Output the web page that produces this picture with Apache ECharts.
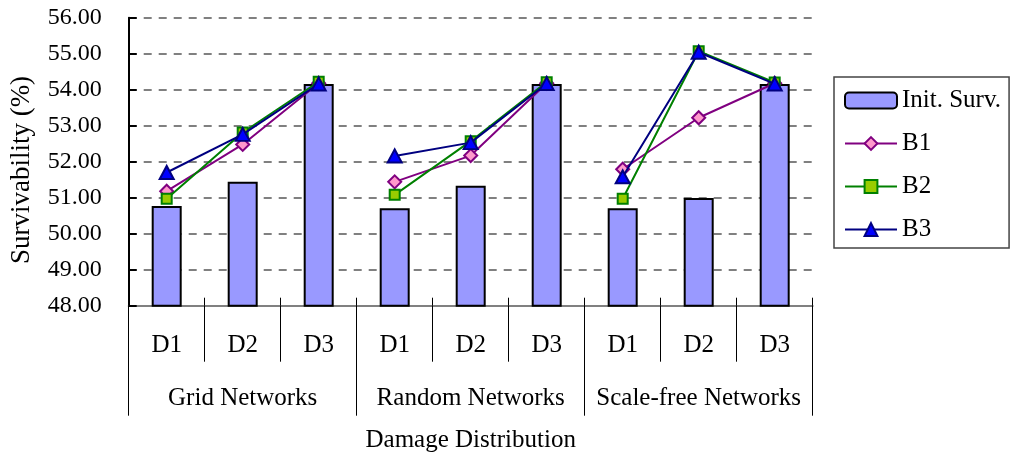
<!DOCTYPE html>
<html>
<head>
<meta charset="utf-8">
<script src="https://cdn.jsdelivr.net/npm/echarts@6/dist/echarts.min.js"></script>
<style>
  html, body { margin: 0; padding: 0; background: #fff; }
  #chart { width: 1013px; height: 462px; }
</style>
</head>
<body>
<div id="chart"></div>
<script>
// Damage distributions within each network type
const categories = ['D1', 'D2', 'D3', 'D1', 'D2', 'D3', 'D1', 'D2', 'D3'];
const groups = ['Grid Networks', 'Random Networks', 'Scale-free Networks'];
const yTicks = [48, 49, 50, 51, 52, 53, 54, 55, 56];

// Survivability (%) per category
const initSurv = [50.77, 51.44, 54.16, 50.71, 51.33, 54.16, 50.71, 50.99, 54.16];
const b1 = [51.18, 52.48, 54.18, 51.44, 52.17, 54.18, 51.79, 53.22, 54.18];
const b2 = [50.97, 52.81, 54.22, 51.08, 52.57, 54.21, 50.97, 55.07, 54.20];
const b3 = [51.70, 52.76, 54.16, 52.16, 52.53, 54.17, 51.58, 55.04, 54.16];

const FONT = "'Liberation Serif', 'Times New Roman', serif";

const lineStyles = {
  B1: { line: '#800080', fill: '#ff99cc', border: '#800080', symbol: 'diamond', size: [13, 13] },
  B2: { line: '#008000', fill: '#99cc00', border: '#008000', symbol: 'rect', size: [10, 10] },
  B3: { line: '#000080', fill: '#0000ff', border: '#000080', symbol: 'triangle', size: [14, 13] }
};

// Each network type gets its own line segment so lines break between groups
function groupSeries(name, values, z) {
  const st = lineStyles[name];
  const out = [];
  for (let g = 0; g < groups.length; g++) {
    const data = values.map((v, i) => (Math.floor(i / 3) === g ? v : '-'));
    out.push({
      name: name,
      type: 'line',
      data: data,
      z: z,
      symbol: st.symbol,
      symbolSize: st.size,
      connectNulls: false,
      lineStyle: { color: st.line, width: 2 },
      itemStyle: { color: st.fill, borderColor: st.border, borderWidth: 2 },
      emphasis: { disabled: true }
    });
  }
  return out;
}

const chart = echarts.init(document.getElementById('chart'), null, { renderer: 'canvas' });

const option = {
  animation: false,
  backgroundColor: '#ffffff',
  textStyle: { fontFamily: FONT, color: '#000' },
  grid: { left: 128.7, right: 200.3, top: 17.7, bottom: 156.3, containLabel: false },
  legend: {
    data: ['Init. Surv.', 'B1', 'B2', 'B3'],
    orient: 'vertical',
    left: 834,
    top: 77,
    padding: [11, 8, 6, 10],
    itemWidth: 52,
    itemHeight: 16,
    itemGap: 18,
    borderColor: '#444',
    borderWidth: 1.5,
    textStyle: { fontFamily: FONT, fontSize: 25, color: '#000' }
  },
  xAxis: [
    {
      type: 'category',
      data: categories,
      position: 'bottom',
      axisLine: { show: true, lineStyle: { color: '#808080', width: 2 } },
      axisTick: { show: true, interval: 0, length: 56, lineStyle: { color: '#000', width: 1 } },
      axisLabel: { interval: 0, margin: 27, fontFamily: FONT, fontSize: 25, color: '#000' },
      splitLine: { show: false },
      name: 'Damage Distribution',
      nameLocation: 'middle',
      nameGap: 122,
      nameTextStyle: { fontFamily: FONT, fontSize: 25, color: '#000' }
    },
    {
      type: 'category',
      data: groups,
      position: 'bottom',
      axisLine: { show: false },
      axisTick: { show: true, interval: 0, length: 110, lineStyle: { color: '#000', width: 1 } },
      axisLabel: { interval: 0, margin: 80, fontFamily: FONT, fontSize: 25, color: '#000' },
      splitLine: { show: false }
    },
    {
      type: 'category',
      data: categories,
      position: 'bottom',
      axisLine: { show: false },
      axisTick: { show: true, inside: true, interval: 0, length: 8, lineStyle: { color: '#000', width: 1 } },
      axisLabel: { show: false },
      splitLine: { show: false }
    }
  ],
  yAxis: {
    type: 'value',
    min: yTicks[0],
    max: yTicks[yTicks.length - 1],
    interval: 1,
    axisLine: { show: true, lineStyle: { color: '#000', width: 2 } },
    axisTick: { show: true, inside: true, length: 8, lineStyle: { color: '#000', width: 2 } },
    axisLabel: {
      margin: 27,
      fontFamily: FONT,
      fontSize: 24,
      color: '#000',
      formatter: v => v.toFixed(2)
    },
    splitLine: { show: true, lineStyle: { color: '#808080', width: 2, type: [8, 7] } }
  },
  graphic: [
    {
      type: 'text',
      x: 22,
      y: 170,
      rotation: Math.PI / 2,
      style: {
        text: 'Survivability (%)',
        fontFamily: FONT,
        fontSize: 27,
        fill: '#000',
        align: 'center',
        verticalAlign: 'middle'
      }
    }
  ],
  series: [
    {
      name: 'Init. Surv.',
      type: 'bar',
      data: initSurv,
      barWidth: 30,
      z: 2,
      itemStyle: { color: '#9999ff', borderColor: '#000', borderWidth: 2 },
      emphasis: { disabled: true }
    },
    ...groupSeries('B1', b1, 3),
    ...groupSeries('B2', b2, 4),
    ...groupSeries('B3', b3, 5)
  ]
};

chart.setOption(option);
</script>
</body>
</html>
